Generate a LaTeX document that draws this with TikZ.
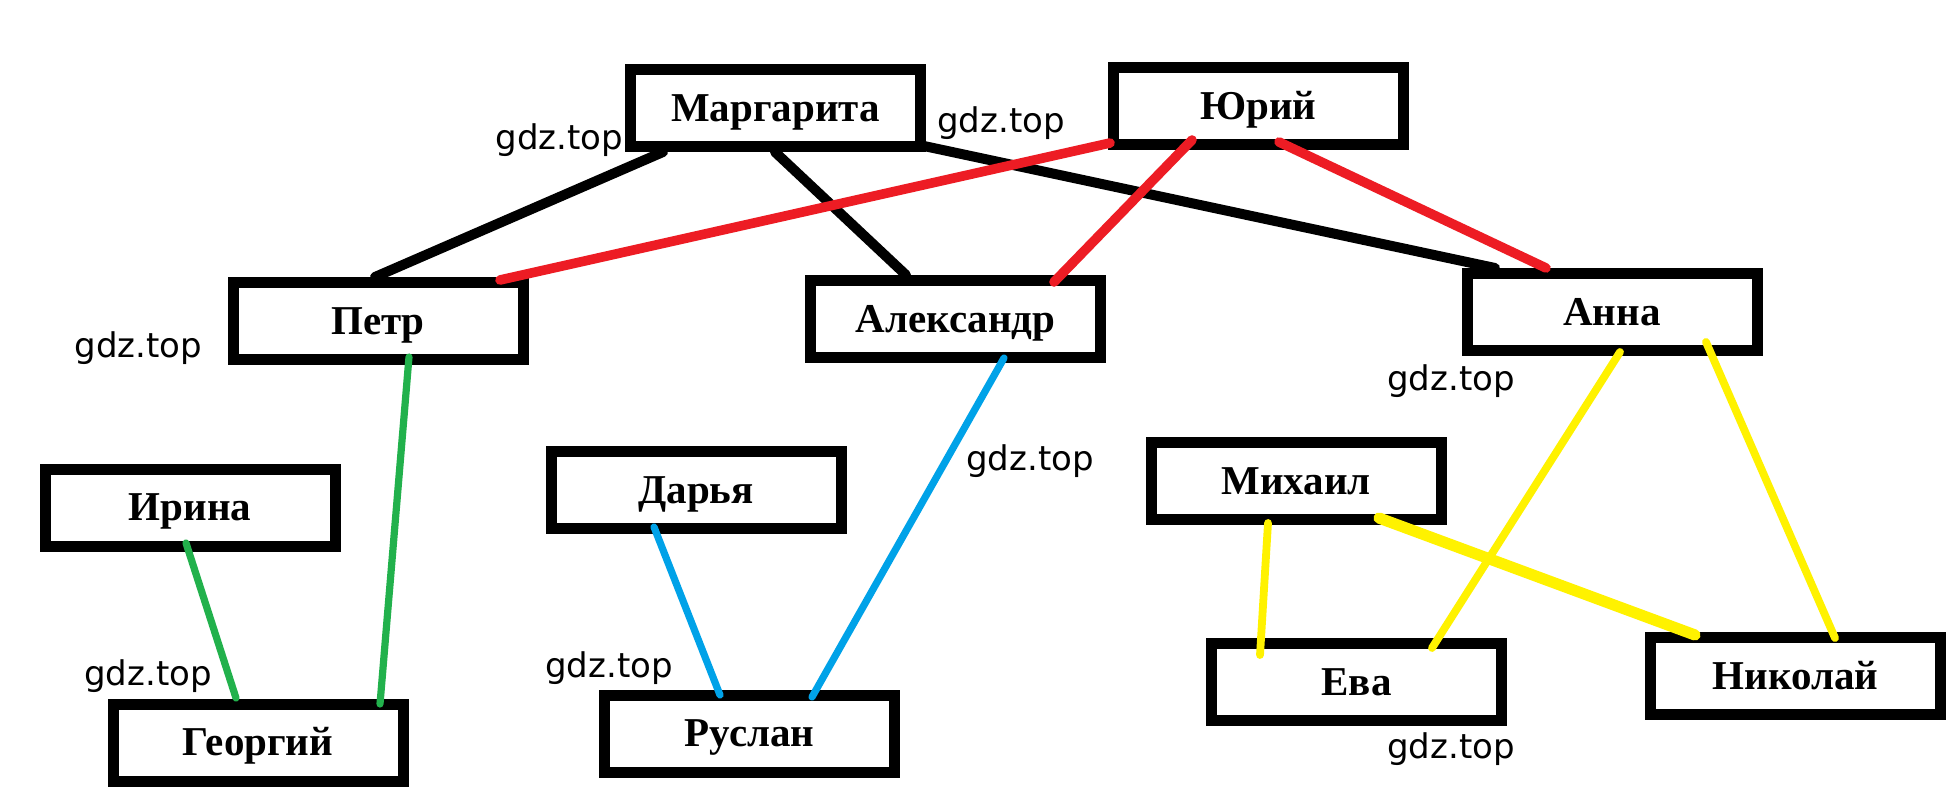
\documentclass[tikz,border=0pt]{standalone}
\usepackage{fontspec}
\setmainfont{Liberation Serif}
\newfontfamily\wmfont{DejaVu Sans}
\usetikzlibrary{calc}
\definecolor{pred}{HTML}{ED1C24}
\definecolor{pgreen}{HTML}{22B14C}
\definecolor{pblue}{HTML}{00A2E8}
\definecolor{pyellow}{HTML}{FFF200}
\tikzset{
  person/.style={draw=black, fill=white, line width=5.5pt, outer sep=0pt, inner sep=0pt,
    minimum width=145pt, minimum height=38.5pt,
    font=\fontsize{20.5}{20.5}\selectfont\bfseries, text height=13pt, text depth=0pt},
  wm/.style={anchor=base, inner sep=0pt, font=\wmfont\fontsize{17}{17}\selectfont},
  link/.style={line cap=round},
  blk/.style={link, black, line width=5pt},
  redl/.style={link, pred, line width=4.8pt},
  grn/.style={link, pgreen, line width=3.6pt},
  blu/.style={link, pblue, line width=3.6pt},
  yel/.style={link, pyellow, line width=3.9pt}
}
\begin{document}
\begin{tikzpicture}[x=0.5pt, y=-0.5pt]
\useasboundingbox[fill=white] (0,0) rectangle (1953,809);
% boxes
\node[person] (mar) at (775.5,108) {Маргарита};
\node[person] (yur) at (1258.5,106) {Юрий};
\node[person] (pet) at (378,321) {Петр};
\node[person] (ale) at (955.5,319) {Александр};
\node[person] (ann) at (1612,312) {Анна};
\node[person] (iri) at (190,507.5) {Ирина};
\node[person] (dar) at (696,490) {Дарья};
\node[person] (mik) at (1296,481) {Михаил};
\node[person] (geo) at (258,742.5) {Георгий};
\node[person] (rus) at (749.5,733.5) {Руслан};
\node[person] (eva) at (1356.5,682) {Ева};
\node[person] (nik) at (1795.5,676) {Николай};
% black connectors
\draw[blk] ($(mar)+(-112.5,44)$) -- ($(pet)+(-3,-44)$);
\draw[blk] ($(mar)+(-0.5,44)$) -- ($(ale)+(-49.5,-44)$);
\draw[blk] ($(mar)+(148.5,38)$) -- ($(ann)+(-117,-44)$);
% red connectors
\draw[redl] ($(yur)+(-148.5,37)$) -- ($(pet)+(122,-41)$);
\draw[redl] ($(yur)+(-66.5,34)$) -- ($(ale)+(98.5,-37)$);
\draw[redl] ($(yur)+(20.5,36)$) -- ($(ann)+(-66,-44)$);
% green connectors
\draw[grn] ($(pet)+(31,36)$) -- ($(geo)+(122,-38.5)$);
\draw[grn] ($(iri)+(-4,35.5)$) -- ($(geo)+(-22,-44.5)$);
% blue connectors
\draw[blu] ($(dar)+(-42,37)$) -- ($(rus)+(-29.5,-38.5)$);
\draw[blu] ($(ale)+(48.5,39)$) -- ($(rus)+(62.5,-36.5)$);
% yellow connectors
\draw[yel] ($(ann)+(8,40)$) -- ($(eva)+(75.5,-34)$);
\draw[yel] ($(ann)+(94,30)$) -- ($(nik)+(39.5,-38)$);
\draw[yel] ($(mik)+(-28,42)$) -- ($(eva)+(-96.5,-27)$);
\draw[yel, line width=5.6pt] ($(mik)+(83,37)$) -- ($(nik)+(-100.5,-41)$);
% watermarks
\node[wm] (g1) at (559.5,149) {gdz.top};
\node[wm] (g2) at (1001,132) {gdz.top};
\node[wm] (g3) at (138.5,357) {gdz.top};
\node[wm] (g4) at (1451,390) {gdz.top};
\node[wm] (g5) at (1030,470) {gdz.top};
\node[wm] (g6) at (148,685) {gdz.top};
\node[wm] (g7) at (609,677) {gdz.top};
\node[wm] (g8) at (1451,758) {gdz.top};
\end{tikzpicture}
\end{document}
